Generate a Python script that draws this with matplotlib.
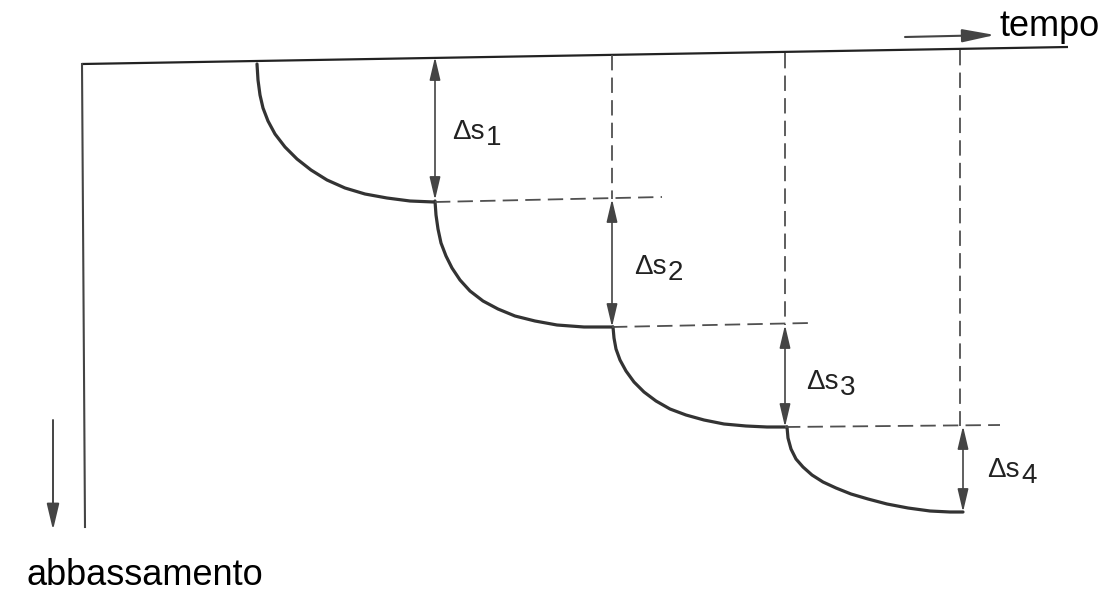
import matplotlib
matplotlib.use("Agg")
import matplotlib.pyplot as plt

plt.rcParams['font.family'] = ['Liberation Sans', 'DejaVu Sans']

# --- geometry (pixel coordinates, y down) ---
top_line_x = [82, 1068]
top_line_y = [64, 47]
left_line_x = [82, 85]
left_line_y = [64, 527]

# settlement curves, one per load step
curve1_x = [257, 258, 260, 263, 268, 275, 285, 297, 311, 327, 345, 365, 387, 410, 434]
curve1_y = [64, 80, 95, 108, 121, 134, 147, 159, 170, 180, 188, 194, 198, 201, 202]
curve2_x = [435, 436, 438, 441, 446, 452, 460, 470, 483, 498, 515, 535, 557, 584, 613]
curve2_y = [201, 215, 229, 243, 256, 268, 280, 291, 301, 309, 316, 321, 325, 327, 327]
curve3_x = [613, 614, 616, 620, 626, 634, 644, 656, 670, 686, 704, 724, 746, 767, 787]
curve3_y = [327, 338, 349, 360, 371, 382, 392, 401, 409, 415, 420, 424, 426, 427, 427]
curve4_x = [787, 788, 791, 796, 803, 812, 823, 836, 851, 868, 887, 908, 930, 950, 963]
curve4_y = [427, 438, 449, 459, 467, 475, 482, 488, 494, 499, 504, 508, 511, 512, 512]
curves = [(curve1_x, curve1_y), (curve2_x, curve2_y),
          (curve3_x, curve3_y), (curve4_x, curve4_y)]

# delta-s dimension arrows
arrow_x = [435, 612, 785, 963]
arrow_top = [57, 199, 325, 426]
arrow_bot = [200, 327, 427, 512]
labels = ['1', '2', '3', '4']
label_x = [452, 634, 806, 987]
label_y = [139, 274, 389, 477]

# dashed guides
vdash_x = [612, 785, 960]
vdash_top = [55, 53, 50]
vdash_bot = [199, 325, 426]
hdash_x0 = [435, 612, 785]
hdash_x1 = [662, 810, 1000]
hdash_y0 = [202, 327, 427]
hdash_y1 = [197, 323, 425]

LINE = '#333333'
ARROW = '#444444'

fig = plt.figure(figsize=(11.09, 5.91), dpi=100)
ax = fig.add_axes([0, 0, 1, 1])
ax.set_xlim(0, 1109)
ax.set_ylim(591, 0)
ax.axis('off')

ax.plot(top_line_x, top_line_y, color='#222222', lw=1.6, solid_capstyle='butt')
ax.plot(left_line_x, left_line_y, color='#444444', lw=1.5)

for cx, cy in curves:
    ax.plot(cx, cy, color=LINE, lw=2.3, solid_capstyle='round',
            solid_joinstyle='round')

for x, y0, y1 in zip(vdash_x, vdash_top, vdash_bot):
    ax.plot([x, x], [y0, y1], color='#505050', lw=1.3, dashes=(8.5, 4))
for x0, x1, y0, y1 in zip(hdash_x0, hdash_x1, hdash_y0, hdash_y1):
    ax.plot([x0, x1], [y0, y1], color='#505050', lw=1.3, dashes=(8.5, 4))

for x, y0, y1 in zip(arrow_x, arrow_top, arrow_bot):
    ax.annotate('', xy=(x, y0), xytext=(x, y1),
                arrowprops=dict(arrowstyle='<|-|>,head_length=1.4,head_width=0.33',
                                color=ARROW, lw=1.2, shrinkA=0, shrinkB=0,
                                mutation_scale=10))

for lab, x, y in zip(labels, label_x, label_y):
    t = ax.text(x, y, 'Δs', fontsize=20, color='#222222', ha='left', va='baseline')
    ax.annotate(lab, xy=(1, 0), xycoords=t, xytext=(1, -4),
                textcoords='offset points', fontsize=20, color='#222222',
                ha='left', va='bottom')

# axis direction arrows and names
ax.annotate('', xy=(995, 35), xytext=(905, 37),
            arrowprops=dict(arrowstyle='-|>,head_length=2.0,head_width=0.4',
                            color=ARROW, lw=1.5, shrinkA=0, shrinkB=0,
                            mutation_scale=10))
ax.text(1000, 36, 'tempo', fontsize=26, color='black', ha='left', va='baseline')

ax.annotate('', xy=(53, 530), xytext=(53, 420),
            arrowprops=dict(arrowstyle='-|>,head_length=1.6,head_width=0.38',
                            color=ARROW, lw=1.4, shrinkA=0, shrinkB=0,
                            mutation_scale=10))
ax.text(27, 585, 'abbassamento', fontsize=26, color='black', ha='left', va='baseline')

fig.savefig('out.png', dpi=100, facecolor='white')
